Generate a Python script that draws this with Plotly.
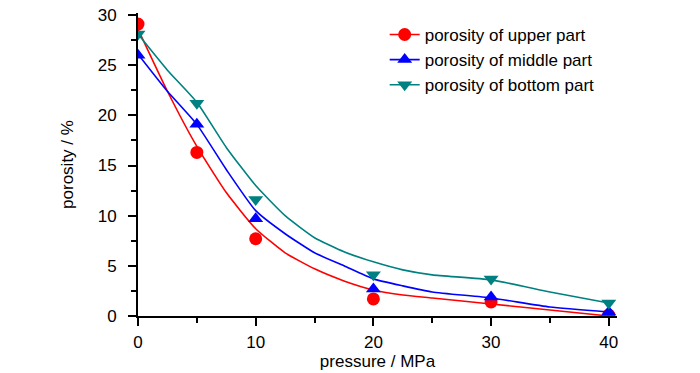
import plotly.graph_objects as go

# measured points
pressure = [0, 5, 10, 20, 30, 40]
upper_pts = [29.1, 16.3, 7.7, 1.7, 1.4, 0.1]
middle_pts = [26.0, 19.1, 9.7, 2.7, 1.9, 0.4]
bottom_pts = [28.1, 21.2, 11.6, 4.1, 3.7, 1.3]

# fitted curves
curve_x = [0, 2.5, 5, 7.5, 10, 12.5, 15, 17.5, 20, 22.5, 25, 30, 35, 40]
upper_curve = [28.6, 22.4, 16.9, 12.3, 8.7, 6.3, 4.7, 3.5, 2.6, 2.1, 1.8, 1.2, 0.6, 0.0]
middle_curve = [26.1, 22.4, 19.1, 14.6, 10.5, 8.2, 6.3, 5.0, 3.7, 3.0, 2.4, 1.8, 0.9, 0.4]
bottom_curve = [28.1, 24.5, 21.3, 16.8, 13.0, 10.0, 7.8, 6.4, 5.4, 4.6, 4.1, 3.6, 2.4, 1.3]

names = ["porosity of upper part", "porosity of middle part", "porosity of bottom part"]
colors = ["#FF0000", "#0000FF", "#008080"]
symbols = ["circle", "triangle-up", "triangle-down"]
pts = [upper_pts, middle_pts, bottom_pts]
curves = [upper_curve, middle_curve, bottom_curve]

FONT = "Liberation Sans, Arial, sans-serif"
FS = 17

fig = go.Figure()
for i, (name, c, s, p, cv) in enumerate(zip(names, colors, symbols, pts, curves)):
    fig.add_trace(go.Scatter(x=curve_x, y=cv, mode="lines", line=dict(color=c, width=1.6, shape="spline", smoothing=0.5),
                             showlegend=False, hoverinfo="skip"))
    fig.add_trace(go.Scatter(x=pressure, y=p, mode="markers", name=name,
                             marker=dict(color=c, symbol=s, size=13, line=dict(width=0)),
                             showlegend=False))
    fig.add_trace(go.Scatter(x=[None], y=[None], mode="lines+markers", name=name,
                             line=dict(color=c, width=1.6),
                             marker=dict(color=c, symbol=s, size=13, line=dict(width=0))))

axis_common = dict(showline=True, linecolor="black", linewidth=2, ticks="outside", ticklen=8, tickwidth=2,
                   tickcolor="black", showgrid=False, zeroline=False, mirror=False,
                   tickfont=dict(family=FONT, size=FS, color="black"))

fig.update_layout(
    width=700, height=373,
    margin=dict(l=138, r=83, t=13, b=57, autoexpand=False),
    paper_bgcolor="white", plot_bgcolor="white",
    font=dict(family=FONT, size=FS, color="black"),
    xaxis=dict(range=[0, 40.7], tickvals=[0, 10, 20, 30, 40], ticklabelstandoff=2,
               minor=dict(tickvals=[5, 15, 25, 35], ticklen=5, tickwidth=2, tickcolor="black", ticks="outside"),
               title=dict(text="pressure / MPa", font=dict(family=FONT, size=FS), standoff=2),
               automargin=False,
               **axis_common),
    yaxis=dict(range=[0, 30.2], tickvals=[0, 5, 10, 15, 20, 25, 30], ticklabelstandoff=8,
               minor=dict(tickvals=[2.5, 7.5, 12.5, 17.5, 22.5, 27.5], ticklen=5, tickwidth=2, tickcolor="black", ticks="outside"),
               title=dict(text="porosity / %", font=dict(family=FONT, size=FS), standoff=20),
               automargin=False,
               **axis_common),
    legend=dict(x=0.515, y=0.987, xanchor="left", yanchor="top", bgcolor="rgba(0,0,0,0)",
                font=dict(family=FONT, size=FS, color="black")),
)

fig.write_html("out.html", config={"displayModeBar": False},
               post_script="document.body.style.margin='0';")
